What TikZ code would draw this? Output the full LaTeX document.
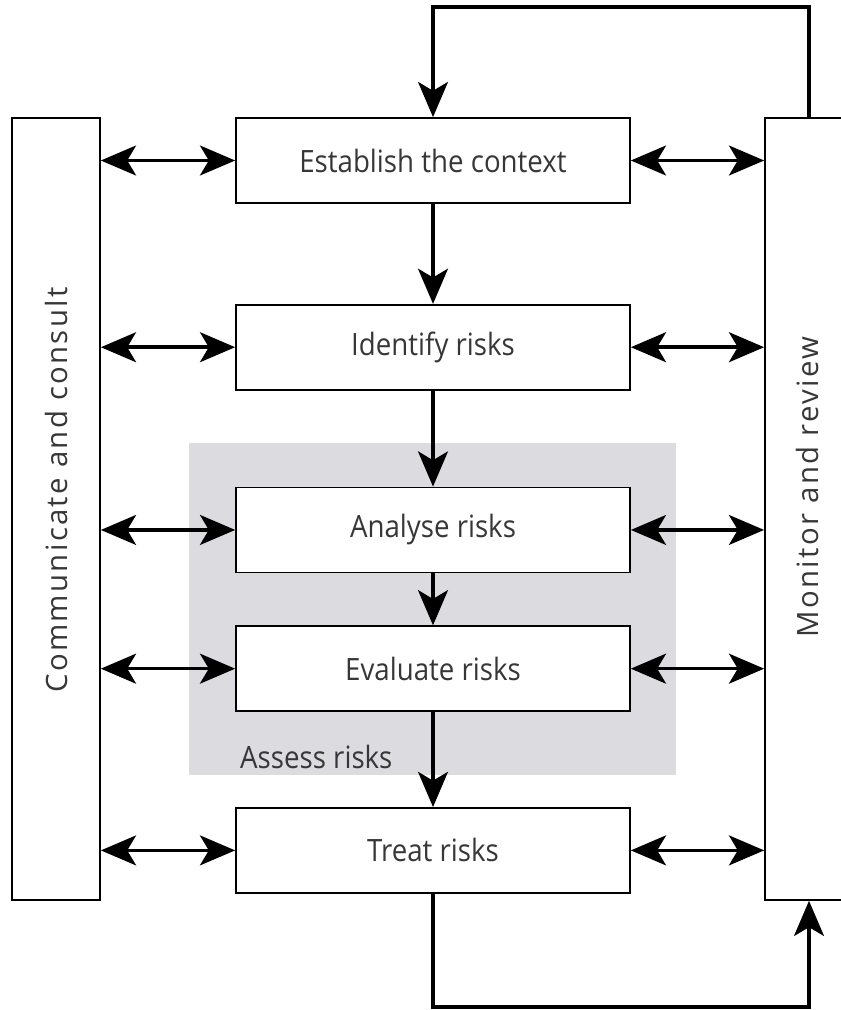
\documentclass[tikz,border=0pt]{standalone}
\usepackage{fontspec}
\setmainfont[FakeStretch=0.9]{Open Sans}
\newfontfamily\sidefont[LetterSpace=8]{Open Sans}
\usepackage{tikz}
\usetikzlibrary{positioning, arrows.meta}
\definecolor{assessgray}{RGB}{220,219,223}
\definecolor{inkgray}{RGB}{55,55,55}
\tikzstyle{stepbox} = [rectangle, draw, line width=1pt, fill=white, minimum width=7.88cm, text centered, minimum height=1.7cm, text=inkgray, font=\fontsize{17.5}{21}\selectfont]
\tikzstyle{sidebox} = [rectangle, draw, line width=1pt, fill=white, minimum width=1.76cm, minimum height=15.64cm]
\tikzstyle{sidetext} = [rotate=90, text=inkgray, font=\sidefont\fontsize{16.7}{20}\selectfont]
\tikzstyle{group} = [rectangle, fill=assessgray, minimum width=9.74cm, minimum height=6.64cm]
\tikzstyle{line} = [draw, line width=2pt, -{Stealth[length=20pt, width=17pt, inset=5pt]}]
\tikzstyle{both} = [draw, line width=2pt, {Stealth[length=20pt, width=17pt, inset=5pt]}-{Stealth[length=20pt, width=17pt, inset=5pt]}]

\begin{document}
\begin{tikzpicture}[x=0.02cm, y=-0.02cm]
    \useasboundingbox (0,0) rectangle (841,1010);

    \node[group](assess) at (432.5,609){};
    \node[anchor=west, text=inkgray, font=\fontsize{17.5}{21}\selectfont](assesstext) at (234,757){Assess risks};

    \node[stepbox](ctx) at (433,160.5){Establish the context};
    \node[stepbox, below=2.0cm of ctx](ident){Identify risks};
    \node[stepbox, below=1.92cm of ident](anal){Analyse risks};
    \node[stepbox, below=1.04cm of anal](eval){Evaluate risks};
    \node[stepbox, below=1.90cm of eval](treat){Treat risks};

    \node[sidebox](comm) at (56,509){};
    \node[sidebox](mon) at (809,509){};
    \node[sidetext](commtext) at (56,490){Communicate and consult};
    \node[sidetext](montext) at (807,487){Monitor and review};

    \path[line] (ctx) -- (ident);
    \path[line] (ident) -- (anal);
    \path[line] (anal) -- (eval);
    \path[line] (eval) -- (treat);

    \path[both] (comm.east |- ctx) -- (ctx.west);
    \path[both] (comm.east |- ident) -- (ident.west);
    \path[both] (comm.east |- anal) -- (anal.west);
    \path[both] (comm.east |- eval) -- (eval.west);
    \path[both] (comm.east |- treat) -- (treat.west);

    \path[both] (ctx.east) -- (mon.west |- ctx);
    \path[both] (ident.east) -- (mon.west |- ident);
    \path[both] (anal.east) -- (mon.west |- anal);
    \path[both] (eval.east) -- (mon.west |- eval);
    \path[both] (treat.east) -- (mon.west |- treat);

    % feedback loops
    \coordinate (topturn) at (809,7);
    \coordinate (botturn) at (809,1007);
    \path[line] (mon.north) -- (topturn) -| (ctx.north);
    \path[line] (treat.south) |- (botturn) -- (mon.south);
\end{tikzpicture}
\end{document}
